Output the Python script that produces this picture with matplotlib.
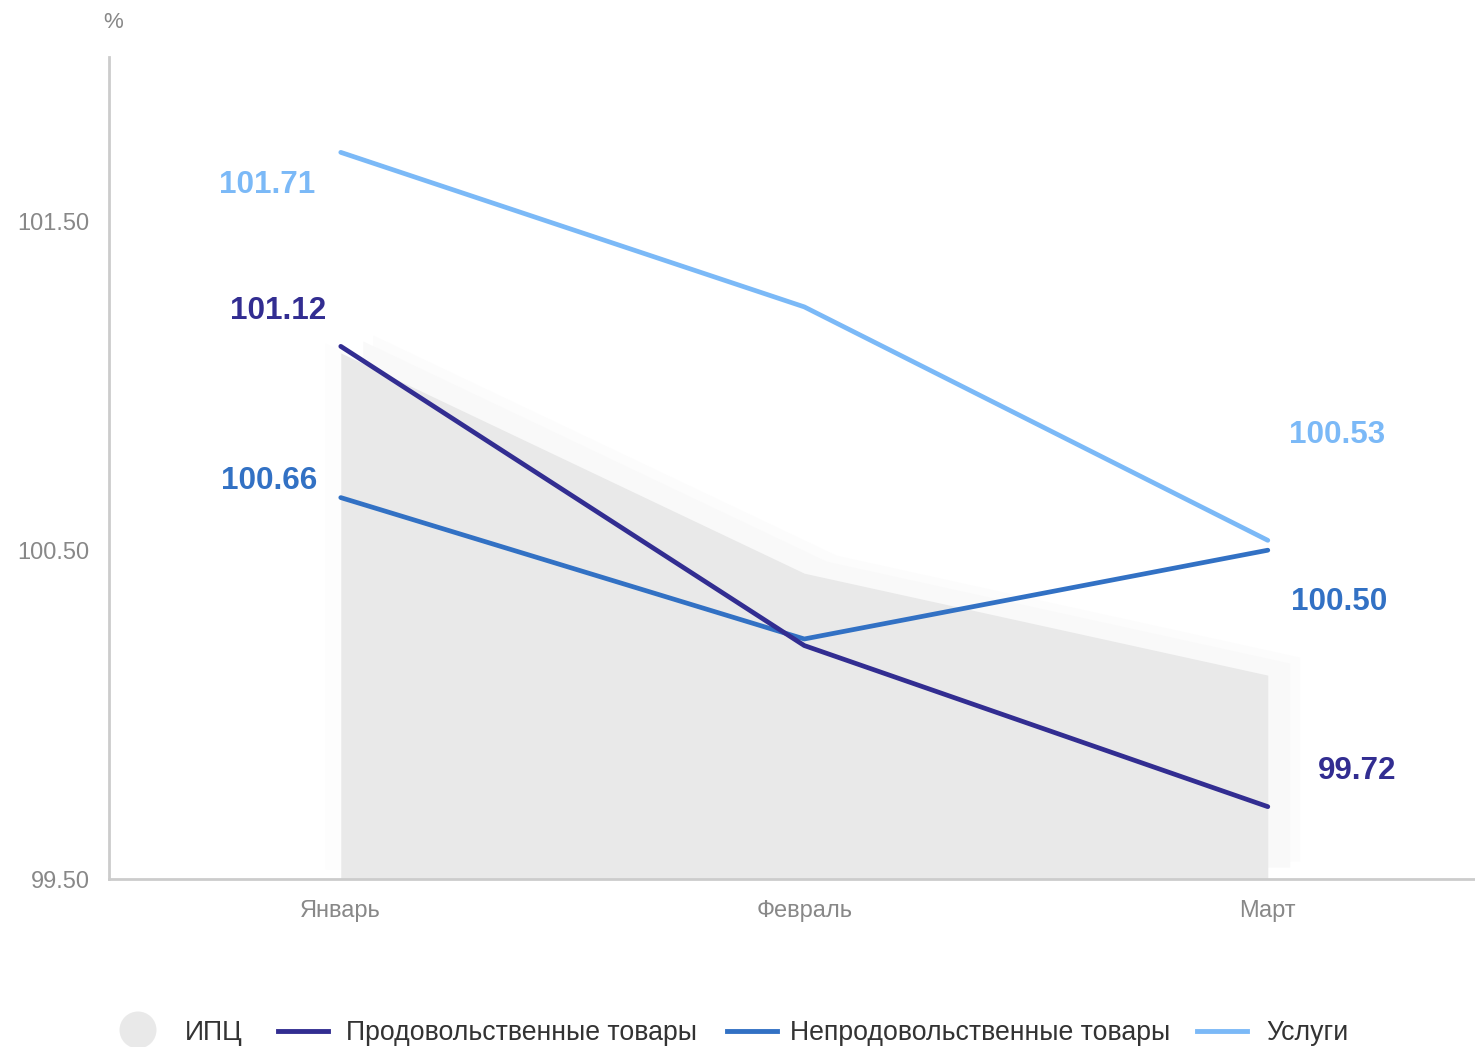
import matplotlib
matplotlib.use("Agg")
import matplotlib.pyplot as plt
import matplotlib.transforms as mtransforms
from matplotlib.lines import Line2D
from matplotlib.patches import Ellipse

plt.rcParams['font.family'] = ['Liberation Sans', 'DejaVu Sans']

months = ["Январь", "Февраль", "Март"]
cpi = [101.10, 100.43, 100.12]
food = [101.12, 100.21, 99.72]
nonfood = [100.66, 100.23, 100.50]
services = [101.71, 101.24, 100.53]
yticks = [99.5, 100.5, 101.5]
ytick_labels = ["99.50", "100.50", "101.50"]

c_cpi = "#e9e9e9"
c_food = "#322d91"
c_nonfood = "#3271c4"
c_serv = "#7bb9f7"

W, H = 1475, 1047
fig = plt.figure(figsize=(W / 100, H / 100), dpi=100)
ax = fig.add_axes([109 / W, 1 - 879 / H, 1 - 109 / W, (879 - 57) / H])
ax.set_xlim(-0.5, 2.447)
ax.set_ylim(99.5, 102.0)

x = list(range(len(months)))

# soft shadow of the area
for dx, dy, col in [(-16, 10, "#fdfdfd"), (32, 18, "#fcfcfc"), (22, 12, "#f9f9f9")]:
    tr = mtransforms.offset_copy(ax.transData, fig=fig, x=dx, y=dy, units="dots")
    ax.fill_between(x, cpi, 99.5, color=col, lw=0, transform=tr, zorder=1)
ax.fill_between(x, cpi, 99.5, color=c_cpi, lw=0, zorder=2)

ax.plot(x, services, color=c_serv, lw=3.4, solid_capstyle="round", zorder=3)
ax.plot(x, nonfood, color=c_nonfood, lw=3.4, solid_capstyle="round", zorder=4)
ax.plot(x, food, color=c_food, lw=3.4, solid_capstyle="round", zorder=5)

# value labels
def lab(xi, yi, dx, dy, color, ha):
    ax.annotate(f"{yi:.2f}", (xi, yi), xytext=(dx, dy), textcoords="offset pixels",
                ha=ha, va="center", color=color, fontsize=22.6, fontweight="bold", zorder=6)

lab(0, services[0], -26, -33, c_serv, "right")
lab(0, food[0], -15, 35, c_food, "right")
lab(0, nonfood[0], -24, 17, c_nonfood, "right")
lab(2, services[2], 21, 105, c_serv, "left")
lab(2, nonfood[2], 23, -52, c_nonfood, "left")
lab(2, food[2], 50, 36, c_food, "left")

for s in ["top", "right"]:
    ax.spines[s].set_visible(False)
for s in ["left", "bottom"]:
    ax.spines[s].set_color("#cccccc")
    ax.spines[s].set_linewidth(2)

ax.set_xticks(x)
ax.set_xticklabels(months)
ax.set_yticks(yticks)
ax.set_yticklabels(ytick_labels)
ax.tick_params(axis="both", length=0, colors="#888888", labelsize=17)
ax.tick_params(axis="y", pad=14)
ax.tick_params(axis="x", pad=15)

fig.text(113 / W, 1 - 22 / H, "%", ha="center", va="center", color="#888888", fontsize=16)

# legend
ly = 1 - 1033 / H
fig.add_artist(Ellipse((138 / W, 1 - 1030 / H), 37 / W, 37 / H, transform=fig.transFigure,
                       color=c_cpi, lw=0))
fig.text(185 / W, ly, "ИПЦ", ha="left", va="center", color="#333333", fontsize=19.2)
items = [(278, 328, 346, "Продовольственные товары", c_food),
         (727, 777, 790, "Непродовольственные товары", c_nonfood),
         (1197, 1247, 1266, "Услуги", c_serv)]
for x0, x1, tx, txt, col in items:
    fig.add_artist(Line2D([x0 / W, x1 / W], [ly + 2 / H, ly + 2 / H], transform=fig.transFigure,
                          color=col, lw=3.5))
    fig.text(tx / W, ly, txt, ha="left", va="center", color="#333333", fontsize=19.2)

fig.savefig("out.png", dpi=100)
